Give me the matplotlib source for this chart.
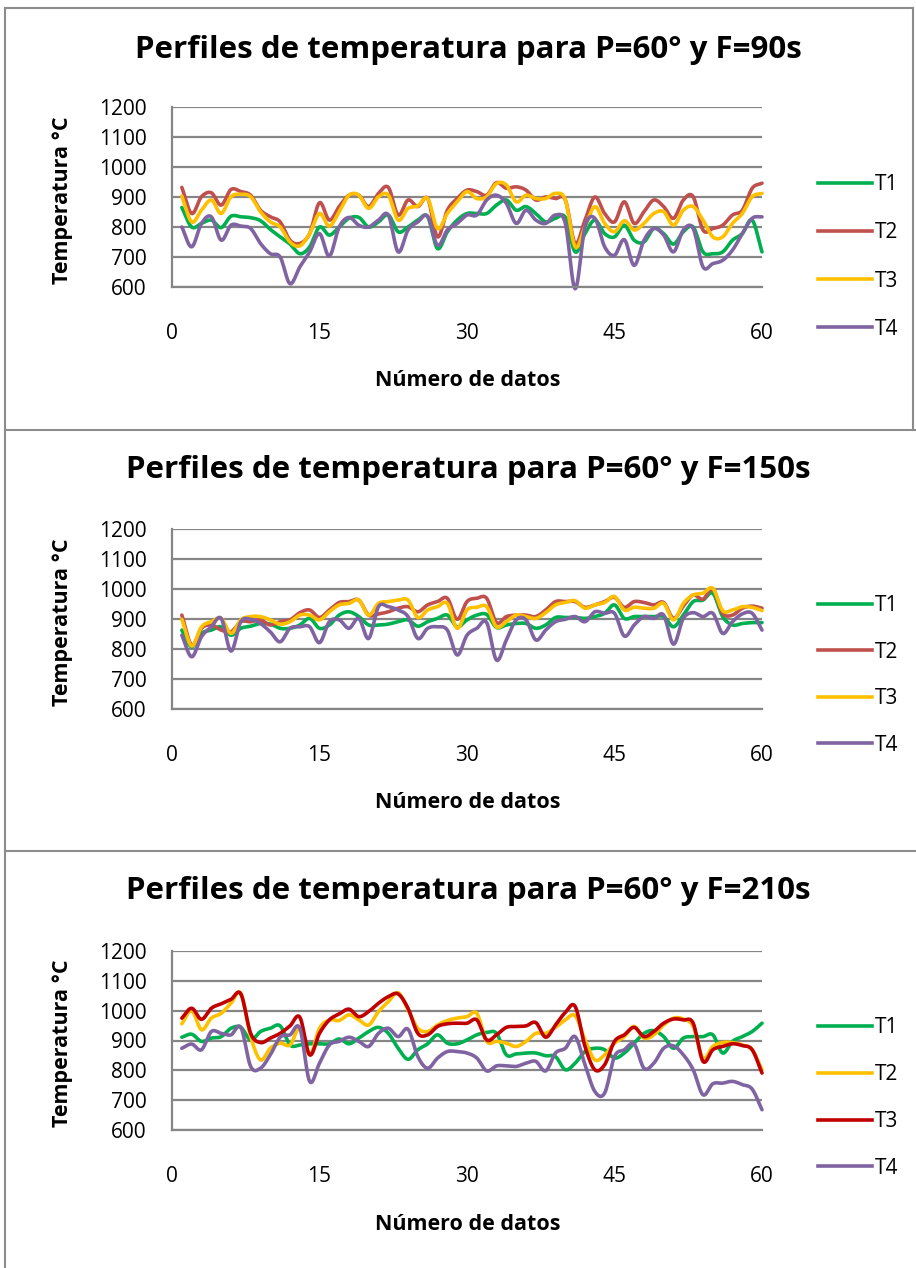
import numpy as np
import matplotlib
matplotlib.use("Agg")
import matplotlib.pyplot as plt
from matplotlib.lines import Line2D

# ---------------- data ----------------
x_idx = list(range(1, 61))
x_ticks = [0, 15, 30, 45, 60]
y_ticks = [600, 700, 800, 900, 1000, 1100, 1200]

titles = ["Perfiles de temperatura para P=60° y F=90s",
          "Perfiles de temperatura para P=60° y F=150s",
          "Perfiles de temperatura para P=60° y F=210s"]
series_names = ["T1", "T2", "T3", "T4"]

# Panel 1 (F=90s)
p1_T1 = [865, 800, 812, 823, 798, 836, 834, 831, 821, 792, 767, 743, 711, 734, 800,
         773, 800, 829, 832, 800, 817, 840, 784, 800, 823, 834, 728, 784, 823, 845,
         845, 845, 873, 890, 856, 868, 845, 817, 829, 832, 717, 778, 823, 778, 767,
         806, 756, 750, 795, 778, 743, 784, 800, 717, 711, 717, 756, 778, 823, 717]
p1_T2 = [932, 845, 901, 914, 873, 925, 918, 906, 856, 834, 817, 756, 745, 778, 881,
         823, 868, 906, 906, 868, 912, 932, 840, 890, 868, 895, 767, 856, 895, 923,
         918, 906, 948, 929, 934, 923, 890, 900, 895, 890, 745, 823, 900, 845, 817,
         884, 812, 851, 890, 868, 829, 890, 901, 790, 795, 806, 840, 856, 929, 946]
p1_T3 = [903, 817, 856, 890, 845, 901, 909, 901, 851, 817, 800, 750, 737, 778, 845,
         803, 851, 906, 906, 862, 901, 906, 823, 862, 870, 895, 795, 845, 884, 918,
         895, 901, 945, 940, 884, 906, 895, 895, 912, 890, 734, 800, 868, 812, 784,
         821, 790, 812, 845, 851, 806, 856, 868, 823, 767, 767, 812, 845, 901, 912]
p1_T4 = [800, 734, 812, 834, 756, 806, 803, 795, 745, 711, 700, 611, 667, 717, 778,
         703, 800, 832, 806, 800, 823, 840, 717, 790, 817, 836, 739, 790, 812, 840,
         840, 890, 906, 879, 812, 856, 823, 812, 840, 812, 594, 800, 829, 734, 706,
         758, 672, 756, 795, 773, 717, 790, 795, 667, 678, 689, 723, 778, 829, 834]

# Panel 2 (F=150s)
p2_T1 = [863, 807, 852, 863, 874, 846, 869, 876, 885, 883, 869, 869, 880, 902, 869,
         880, 913, 924, 908, 880, 880, 883, 891, 897, 876, 891, 902, 913, 874, 897,
         913, 915, 872, 880, 885, 885, 869, 880, 905, 905, 905, 902, 908, 919, 947,
         902, 908, 908, 908, 908, 874, 913, 958, 963, 986, 908, 880, 885, 888, 888]
p2_T2 = [913, 813, 869, 880, 863, 857, 891, 891, 897, 880, 891, 897, 921, 930, 905,
         930, 955, 958, 963, 913, 917, 924, 936, 941, 924, 947, 958, 969, 899, 958,
         969, 969, 888, 908, 913, 913, 908, 930, 958, 958, 958, 939, 947, 958, 972,
         939, 958, 955, 947, 955, 902, 943, 980, 966, 1000, 919, 913, 936, 943, 936]
p2_T3 = [899, 810, 874, 891, 902, 852, 897, 908, 908, 897, 883, 891, 913, 913, 897,
         924, 947, 952, 963, 913, 952, 958, 963, 963, 905, 930, 941, 952, 869, 930,
         939, 941, 874, 891, 913, 908, 902, 921, 947, 955, 961, 936, 947, 955, 975,
         930, 939, 936, 936, 952, 897, 952, 980, 986, 1002, 928, 930, 941, 939, 928]
p2_T4 = [846, 774, 841, 874, 902, 793, 891, 899, 885, 857, 824, 869, 874, 874, 821,
         891, 897, 869, 902, 835, 941, 941, 930, 908, 835, 869, 874, 863, 780, 846,
         869, 888, 763, 830, 897, 897, 830, 863, 891, 899, 908, 891, 924, 919, 919,
         843, 880, 908, 902, 913, 816, 902, 921, 908, 919, 852, 891, 917, 919, 863]

# Panel 3 (F=210s)
p3_T1 = [911, 921, 897, 908, 913, 941, 944, 902, 930, 941, 949, 885, 885, 889, 889,
         889, 905, 889, 908, 930, 944, 924, 874, 837, 869, 889, 919, 891, 889, 902,
         919, 927, 924, 852, 855, 858, 858, 849, 846, 802, 824, 863, 874, 869, 841,
         858, 891, 924, 933, 913, 874, 908, 913, 913, 919, 858, 897, 913, 930, 958]
p3_T2 = [956, 1000, 936, 975, 991, 1025, 1058, 913, 835, 874, 891, 885, 941, 852, 941,
         969, 967, 986, 969, 952, 997, 1030, 1060, 1003, 941, 930, 952, 967, 975, 980,
         991, 897, 897, 891, 880, 897, 924, 924, 944, 969, 983, 902, 835, 852, 891,
         913, 947, 908, 919, 952, 975, 972, 947, 841, 880, 893, 893, 885, 869, 802]
p3_T3 = [975, 1008, 971, 1008, 1023, 1038, 1056, 924, 893, 908, 924, 949, 978, 852, 924,
         969, 989, 1005, 980, 997, 1025, 1047, 1056, 1008, 924, 919, 947, 956, 958, 958,
         969, 902, 919, 944, 947, 949, 960, 911, 952, 994, 1014, 880, 802, 819, 897,
         919, 944, 913, 930, 958, 972, 969, 958, 830, 869, 880, 889, 883, 869, 791]
p3_T4 = [874, 888, 869, 930, 924, 919, 944, 813, 807, 852, 911, 919, 941, 763, 824,
         885, 897, 911, 897, 880, 924, 941, 913, 938, 846, 807, 841, 863, 863, 858,
         841, 798, 815, 815, 813, 824, 830, 798, 858, 874, 913, 819, 729, 724, 846,
         869, 888, 807, 824, 874, 882, 852, 802, 718, 755, 757, 763, 752, 737, 668]

panels = [
    (titles[0], [p1_T1, p1_T2, p1_T3, p1_T4], ["#00B050", "#C0504D", "#FFC000", "#8064A2"]),
    (titles[1], [p2_T1, p2_T2, p2_T3, p2_T4], ["#00B050", "#C0504D", "#FFC000", "#8064A2"]),
    (titles[2], [p3_T1, p3_T2, p3_T3, p3_T4], ["#00B050", "#FFC000", "#C00000", "#8064A2"]),
]

# ---------------- layout (pixels) ----------------
W, H = 916, 1268
FONT = "Open Sans"
plt.rcParams["font.family"] = [FONT, "DejaVu Sans"]

fig = plt.figure(figsize=(W / 100, H / 100), dpi=100)
fig.patch.set_facecolor("white")

def fx(px):
    return px / W

def fy(py):
    return 1 - py / H

geo = [
    dict(y1200=107, y600=287, title=50, xlab=381, leg=[182, 230, 277, 326]),
    dict(y1200=529, y600=709, title=470, xlab=802, leg=[603, 648, 695, 742]),
    dict(y1200=951, y600=1130, title=891, xlab=1225, leg=[1025, 1071, 1118, 1165]),
]
AX_L, AX_R = 172, 762
GRID = "#868686"
TICK_FS = 15
LEG_FS = 15


def smooth(xs, ys, n=12):
    """Catmull-Rom style smoothing used only for drawing (Excel 'smoothed line')."""
    xs = np.asarray(xs, float)
    ys = np.asarray(ys, float)
    px = np.concatenate([[2 * xs[0] - xs[1]], xs, [2 * xs[-1] - xs[-2]]])
    py = np.concatenate([[2 * ys[0] - ys[1]], ys, [2 * ys[-1] - ys[-2]]])
    outx, outy = [], []
    t = np.linspace(0, 1, n, endpoint=False)
    for i in range(1, len(px) - 2):
        p0, p1, p2, p3 = py[i - 1], py[i], py[i + 1], py[i + 2]
        q0, q1, q2, q3 = px[i - 1], px[i], px[i + 1], px[i + 2]
        fy_ = 0.5 * ((2 * p1) + (-p0 + p2) * t + (2 * p0 - 5 * p1 + 4 * p2 - p3) * t ** 2 + (-p0 + 3 * p1 - 3 * p2 + p3) * t ** 3)
        fx_ = 0.5 * ((2 * q1) + (-q0 + q2) * t + (2 * q0 - 5 * q1 + 4 * q2 - q3) * t ** 2 + (-q0 + 3 * q1 - 3 * q2 + q3) * t ** 3)
        outx.extend(fx_)
        outy.extend(fy_)
    outx.append(xs[-1])
    outy.append(ys[-1])
    return np.array(outx), np.array(outy)


for k, (title, series, colors) in enumerate(panels):
    g = geo[k]
    ax = fig.add_axes([fx(AX_L), fy(g["y600"]), fx(AX_R - AX_L), (g["y600"] - g["y1200"]) / H])
    ax.set_xlim(0, 60)
    ax.set_ylim(600, 1200)
    ax.set_yticks(y_ticks)
    ax.set_xticks(x_ticks)
    ax.grid(axis="y", color=GRID, linewidth=1.6)
    ax.set_axisbelow(True)
    for s in ["top", "right"]:
        ax.spines[s].set_visible(False)
    for s in ["left", "bottom"]:
        ax.spines[s].set_color(GRID)
        ax.spines[s].set_linewidth(1.6)
    ax.tick_params(axis="both", length=0, labelsize=TICK_FS, colors="black")
    ax.tick_params(axis="y", pad=18)
    ax.tick_params(axis="x", pad=26)
    for lbl in ax.get_xticklabels() + ax.get_yticklabels():
        lbl.set_fontfamily(FONT)

    handles = []
    for name, vals, col in zip(series_names, series, colors):
        sx, sy = smooth(x_idx, vals)
        ax.plot(sx, sy, color=col, linewidth=2.6, solid_capstyle="round", clip_on=False)
        handles.append(Line2D([], [], color=col, linewidth=2.6, label=name))

    fig.text(fx(468), fy(g["title"]), title, ha="center", va="center",
             fontsize=22.5, fontweight="bold", family=FONT)
    fig.text(fx(468), fy(g["xlab"]), "Número de datos", ha="center", va="center",
             fontsize=15.5, fontweight="bold", family=FONT)
    fig.text(fx(63), fy((g["y1200"] + g["y600"]) / 2 + 3), "Temperatura °C", ha="center", va="center",
             rotation=90, fontsize=15.5, fontweight="bold", family=FONT)

    leg_center = (g["leg"][0] + g["leg"][-1]) / 2 + 3
    row_px = (g["leg"][-1] - g["leg"][0]) / 3
    fs_px = LEG_FS * 100 / 72
    ax.legend(handles=handles, loc="center left", frameon=False,
              bbox_to_anchor=(fx(799), fy(leg_center)), bbox_transform=fig.transFigure,
              fontsize=LEG_FS, handlelength=2.6, handletextpad=0.12,
              labelspacing=(row_px - 1.0 * fs_px) / fs_px)

# panel borders
BORDER = "#8C8C8C"
def hline(y, x0, x1):
    fig.add_artist(Line2D([fx(x0), fx(x1)], [fy(y), fy(y)], color=BORDER, linewidth=1.5))
def vline(x, y0, y1):
    fig.add_artist(Line2D([fx(x), fx(x)], [fy(y0), fy(y1)], color=BORDER, linewidth=1.5))

hline(8, 5, 913)
vline(5, 8, 1268)
vline(913, 8, 430)
hline(430, 5, 916)
hline(851, 5, 916)

fig.savefig("out.png", dpi=100, facecolor="white")
